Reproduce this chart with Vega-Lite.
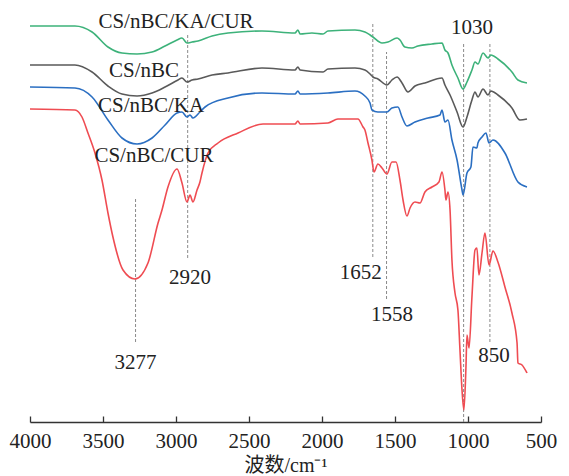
{
  "$schema": "https://vega.github.io/schema/vega-lite/v6.json",
  "width": 511,
  "height": 422,
  "autosize": {"type": "none"},
  "padding": {"left": 30, "top": 0, "right": 28, "bottom": 54},
  "background": "white",
  "config": {"view": {"stroke": null}, "font": "Liberation Serif"},
  "datasets": {
    "markers": [
      {"wn": 3277, "t1": 80, "t2": 225},
      {"wn": 2920, "t1": 164, "t2": 387},
      {"wn": 1652, "t1": 165, "t2": 398},
      {"wn": 1558, "t1": 123, "t2": 370},
      {"wn": 1030, "t1": 0, "t2": 378},
      {"wn": 850, "t1": 80, "t2": 380}
    ],
    "notes": [
      {"label": "CS/nBC/KA/CUR", "wn": 3000, "t": 400},
      {"label": "CS/nBC", "wn": 3219, "t": 351},
      {"label": "CS/nBC/KA", "wn": 3171, "t": 316},
      {"label": "CS/nBC/CUR", "wn": 3151, "t": 266},
      {"label": "3277", "wn": 3277, "t": 59},
      {"label": "2920", "wn": 2904, "t": 144},
      {"label": "1652", "wn": 1735, "t": 149},
      {"label": "1558", "wn": 1521, "t": 107},
      {"label": "1030", "wn": 973, "t": 394},
      {"label": "850", "wn": 822, "t": 66}
    ],
    "spectra": [
      {"s": "CS/nBC/KA/CUR", "wn": 4000, "t": 396}, {"s": "CS/nBC/KA/CUR", "wn": 3692, "t": 396}, {"s": "CS/nBC/KA/CUR", "wn": 3575, "t": 390}, {"s": "CS/nBC/KA/CUR", "wn": 3466, "t": 375}, {"s": "CS/nBC/KA/CUR", "wn": 3370, "t": 369}, {"s": "CS/nBC/KA/CUR", "wn": 3267, "t": 368}, {"s": "CS/nBC/KA/CUR", "wn": 3164, "t": 370}, {"s": "CS/nBC/KA/CUR", "wn": 3075, "t": 376}, {"s": "CS/nBC/KA/CUR", "wn": 2993, "t": 382}, {"s": "CS/nBC/KA/CUR", "wn": 2959, "t": 384}, {"s": "CS/nBC/KA/CUR", "wn": 2925, "t": 379}, {"s": "CS/nBC/KA/CUR", "wn": 2890, "t": 380}, {"s": "CS/nBC/KA/CUR", "wn": 2849, "t": 381}, {"s": "CS/nBC/KA/CUR", "wn": 2753, "t": 386}, {"s": "CS/nBC/KA/CUR", "wn": 2644, "t": 389}, {"s": "CS/nBC/KA/CUR", "wn": 2411, "t": 391}, {"s": "CS/nBC/KA/CUR", "wn": 2185, "t": 389}, {"s": "CS/nBC/KA/CUR", "wn": 2165, "t": 392}, {"s": "CS/nBC/KA/CUR", "wn": 2150, "t": 388}, {"s": "CS/nBC/KA/CUR", "wn": 2069, "t": 389}, {"s": "CS/nBC/KA/CUR", "wn": 1993, "t": 388}, {"s": "CS/nBC/KA/CUR", "wn": 1959, "t": 391}, {"s": "CS/nBC/KA/CUR", "wn": 1774, "t": 392}, {"s": "CS/nBC/KA/CUR", "wn": 1706, "t": 390}, {"s": "CS/nBC/KA/CUR", "wn": 1671, "t": 387}, {"s": "CS/nBC/KA/CUR", "wn": 1651, "t": 385}, {"s": "CS/nBC/KA/CUR", "wn": 1589, "t": 379}, {"s": "CS/nBC/KA/CUR", "wn": 1548, "t": 380}, {"s": "CS/nBC/KA/CUR", "wn": 1486, "t": 384}, {"s": "CS/nBC/KA/CUR", "wn": 1466, "t": 382}, {"s": "CS/nBC/KA/CUR", "wn": 1432, "t": 375}, {"s": "CS/nBC/KA/CUR", "wn": 1384, "t": 374}, {"s": "CS/nBC/KA/CUR", "wn": 1343, "t": 376}, {"s": "CS/nBC/KA/CUR", "wn": 1247, "t": 378}, {"s": "CS/nBC/KA/CUR", "wn": 1178, "t": 379}, {"s": "CS/nBC/KA/CUR", "wn": 1158, "t": 372}, {"s": "CS/nBC/KA/CUR", "wn": 1137, "t": 369}, {"s": "CS/nBC/KA/CUR", "wn": 1110, "t": 357}, {"s": "CS/nBC/KA/CUR", "wn": 1069, "t": 344}, {"s": "CS/nBC/KA/CUR", "wn": 1034, "t": 333}, {"s": "CS/nBC/KA/CUR", "wn": 1007, "t": 340}, {"s": "CS/nBC/KA/CUR", "wn": 973, "t": 352}, {"s": "CS/nBC/KA/CUR", "wn": 952, "t": 360}, {"s": "CS/nBC/KA/CUR", "wn": 932, "t": 358}, {"s": "CS/nBC/KA/CUR", "wn": 897, "t": 369}, {"s": "CS/nBC/KA/CUR", "wn": 863, "t": 364}, {"s": "CS/nBC/KA/CUR", "wn": 843, "t": 367}, {"s": "CS/nBC/KA/CUR", "wn": 795, "t": 363}, {"s": "CS/nBC/KA/CUR", "wn": 699, "t": 350}, {"s": "CS/nBC/KA/CUR", "wn": 658, "t": 342}, {"s": "CS/nBC/KA/CUR", "wn": 596, "t": 339},
      {"s": "CS/nBC", "wn": 4000, "t": 357}, {"s": "CS/nBC", "wn": 3692, "t": 357}, {"s": "CS/nBC", "wn": 3575, "t": 350}, {"s": "CS/nBC", "wn": 3466, "t": 336}, {"s": "CS/nBC", "wn": 3370, "t": 328}, {"s": "CS/nBC", "wn": 3267, "t": 326}, {"s": "CS/nBC", "wn": 3164, "t": 329}, {"s": "CS/nBC", "wn": 3075, "t": 335}, {"s": "CS/nBC", "wn": 2986, "t": 342}, {"s": "CS/nBC", "wn": 2959, "t": 344}, {"s": "CS/nBC", "wn": 2925, "t": 340}, {"s": "CS/nBC", "wn": 2890, "t": 342}, {"s": "CS/nBC", "wn": 2849, "t": 343}, {"s": "CS/nBC", "wn": 2753, "t": 347}, {"s": "CS/nBC", "wn": 2644, "t": 349}, {"s": "CS/nBC", "wn": 2411, "t": 354}, {"s": "CS/nBC", "wn": 2185, "t": 352}, {"s": "CS/nBC", "wn": 2165, "t": 355}, {"s": "CS/nBC", "wn": 2150, "t": 352}, {"s": "CS/nBC", "wn": 1993, "t": 350}, {"s": "CS/nBC", "wn": 1959, "t": 353}, {"s": "CS/nBC", "wn": 1774, "t": 354}, {"s": "CS/nBC", "wn": 1706, "t": 352}, {"s": "CS/nBC", "wn": 1671, "t": 348}, {"s": "CS/nBC", "wn": 1651, "t": 345}, {"s": "CS/nBC", "wn": 1617, "t": 343}, {"s": "CS/nBC", "wn": 1555, "t": 337}, {"s": "CS/nBC", "wn": 1521, "t": 342}, {"s": "CS/nBC", "wn": 1486, "t": 345}, {"s": "CS/nBC", "wn": 1452, "t": 339}, {"s": "CS/nBC", "wn": 1411, "t": 330}, {"s": "CS/nBC", "wn": 1363, "t": 336}, {"s": "CS/nBC", "wn": 1295, "t": 339}, {"s": "CS/nBC", "wn": 1178, "t": 344}, {"s": "CS/nBC", "wn": 1158, "t": 337}, {"s": "CS/nBC", "wn": 1123, "t": 327}, {"s": "CS/nBC", "wn": 1075, "t": 310}, {"s": "CS/nBC", "wn": 1034, "t": 295}, {"s": "CS/nBC", "wn": 1007, "t": 305}, {"s": "CS/nBC", "wn": 973, "t": 322}, {"s": "CS/nBC", "wn": 952, "t": 330}, {"s": "CS/nBC", "wn": 932, "t": 325}, {"s": "CS/nBC", "wn": 897, "t": 333}, {"s": "CS/nBC", "wn": 863, "t": 327}, {"s": "CS/nBC", "wn": 843, "t": 331}, {"s": "CS/nBC", "wn": 795, "t": 327}, {"s": "CS/nBC", "wn": 699, "t": 314}, {"s": "CS/nBC", "wn": 644, "t": 302}, {"s": "CS/nBC", "wn": 596, "t": 303},
      {"s": "CS/nBC/KA", "wn": 4000, "t": 335}, {"s": "CS/nBC/KA", "wn": 3692, "t": 334}, {"s": "CS/nBC/KA", "wn": 3575, "t": 325}, {"s": "CS/nBC/KA", "wn": 3466, "t": 302}, {"s": "CS/nBC/KA", "wn": 3370, "t": 284}, {"s": "CS/nBC/KA", "wn": 3267, "t": 278}, {"s": "CS/nBC/KA", "wn": 3164, "t": 284}, {"s": "CS/nBC/KA", "wn": 3075, "t": 297}, {"s": "CS/nBC/KA", "wn": 2993, "t": 309}, {"s": "CS/nBC/KA", "wn": 2959, "t": 310}, {"s": "CS/nBC/KA", "wn": 2925, "t": 305}, {"s": "CS/nBC/KA", "wn": 2904, "t": 307}, {"s": "CS/nBC/KA", "wn": 2884, "t": 304}, {"s": "CS/nBC/KA", "wn": 2836, "t": 310}, {"s": "CS/nBC/KA", "wn": 2801, "t": 315}, {"s": "CS/nBC/KA", "wn": 2644, "t": 324}, {"s": "CS/nBC/KA", "wn": 2411, "t": 329}, {"s": "CS/nBC/KA", "wn": 2185, "t": 328}, {"s": "CS/nBC/KA", "wn": 2165, "t": 331}, {"s": "CS/nBC/KA", "wn": 2150, "t": 328}, {"s": "CS/nBC/KA", "wn": 1959, "t": 329}, {"s": "CS/nBC/KA", "wn": 1774, "t": 331}, {"s": "CS/nBC/KA", "wn": 1706, "t": 326}, {"s": "CS/nBC/KA", "wn": 1671, "t": 319}, {"s": "CS/nBC/KA", "wn": 1658, "t": 312}, {"s": "CS/nBC/KA", "wn": 1617, "t": 310}, {"s": "CS/nBC/KA", "wn": 1555, "t": 310}, {"s": "CS/nBC/KA", "wn": 1521, "t": 314}, {"s": "CS/nBC/KA", "wn": 1480, "t": 315}, {"s": "CS/nBC/KA", "wn": 1452, "t": 305}, {"s": "CS/nBC/KA", "wn": 1418, "t": 296}, {"s": "CS/nBC/KA", "wn": 1363, "t": 300}, {"s": "CS/nBC/KA", "wn": 1274, "t": 304}, {"s": "CS/nBC/KA", "wn": 1192, "t": 307}, {"s": "CS/nBC/KA", "wn": 1178, "t": 312}, {"s": "CS/nBC/KA", "wn": 1158, "t": 300}, {"s": "CS/nBC/KA", "wn": 1137, "t": 302}, {"s": "CS/nBC/KA", "wn": 1110, "t": 282}, {"s": "CS/nBC/KA", "wn": 1075, "t": 262}, {"s": "CS/nBC/KA", "wn": 1041, "t": 232}, {"s": "CS/nBC/KA", "wn": 1034, "t": 227}, {"s": "CS/nBC/KA", "wn": 1007, "t": 249}, {"s": "CS/nBC/KA", "wn": 980, "t": 255}, {"s": "CS/nBC/KA", "wn": 966, "t": 275}, {"s": "CS/nBC/KA", "wn": 939, "t": 274}, {"s": "CS/nBC/KA", "wn": 932, "t": 279}, {"s": "CS/nBC/KA", "wn": 904, "t": 285}, {"s": "CS/nBC/KA", "wn": 877, "t": 289}, {"s": "CS/nBC/KA", "wn": 856, "t": 279}, {"s": "CS/nBC/KA", "wn": 829, "t": 282}, {"s": "CS/nBC/KA", "wn": 747, "t": 269}, {"s": "CS/nBC/KA", "wn": 658, "t": 240}, {"s": "CS/nBC/KA", "wn": 596, "t": 235},
      {"s": "CS/nBC/CUR", "wn": 4000, "t": 313}, {"s": "CS/nBC/CUR", "wn": 3692, "t": 312}, {"s": "CS/nBC/CUR", "wn": 3644, "t": 305}, {"s": "CS/nBC/CUR", "wn": 3603, "t": 289}, {"s": "CS/nBC/CUR", "wn": 3555, "t": 269}, {"s": "CS/nBC/CUR", "wn": 3507, "t": 242}, {"s": "CS/nBC/CUR", "wn": 3466, "t": 209}, {"s": "CS/nBC/CUR", "wn": 3432, "t": 185}, {"s": "CS/nBC/CUR", "wn": 3363, "t": 152}, {"s": "CS/nBC/CUR", "wn": 3281, "t": 143}, {"s": "CS/nBC/CUR", "wn": 3192, "t": 159}, {"s": "CS/nBC/CUR", "wn": 3123, "t": 199}, {"s": "CS/nBC/CUR", "wn": 3096, "t": 212}, {"s": "CS/nBC/CUR", "wn": 3055, "t": 235}, {"s": "CS/nBC/CUR", "wn": 2993, "t": 253}, {"s": "CS/nBC/CUR", "wn": 2959, "t": 239}, {"s": "CS/nBC/CUR", "wn": 2925, "t": 220}, {"s": "CS/nBC/CUR", "wn": 2904, "t": 227}, {"s": "CS/nBC/CUR", "wn": 2884, "t": 220}, {"s": "CS/nBC/CUR", "wn": 2856, "t": 232}, {"s": "CS/nBC/CUR", "wn": 2836, "t": 240}, {"s": "CS/nBC/CUR", "wn": 2822, "t": 249}, {"s": "CS/nBC/CUR", "wn": 2781, "t": 269}, {"s": "CS/nBC/CUR", "wn": 2712, "t": 279}, {"s": "CS/nBC/CUR", "wn": 2575, "t": 289}, {"s": "CS/nBC/CUR", "wn": 2404, "t": 298}, {"s": "CS/nBC/CUR", "wn": 2185, "t": 298}, {"s": "CS/nBC/CUR", "wn": 2165, "t": 301}, {"s": "CS/nBC/CUR", "wn": 2150, "t": 298}, {"s": "CS/nBC/CUR", "wn": 1959, "t": 299}, {"s": "CS/nBC/CUR", "wn": 1891, "t": 303}, {"s": "CS/nBC/CUR", "wn": 1754, "t": 303}, {"s": "CS/nBC/CUR", "wn": 1719, "t": 295}, {"s": "CS/nBC/CUR", "wn": 1706, "t": 292}, {"s": "CS/nBC/CUR", "wn": 1685, "t": 279}, {"s": "CS/nBC/CUR", "wn": 1658, "t": 262}, {"s": "CS/nBC/CUR", "wn": 1644, "t": 250}, {"s": "CS/nBC/CUR", "wn": 1617, "t": 258}, {"s": "CS/nBC/CUR", "wn": 1589, "t": 254}, {"s": "CS/nBC/CUR", "wn": 1555, "t": 248}, {"s": "CS/nBC/CUR", "wn": 1521, "t": 260}, {"s": "CS/nBC/CUR", "wn": 1493, "t": 260}, {"s": "CS/nBC/CUR", "wn": 1466, "t": 242}, {"s": "CS/nBC/CUR", "wn": 1445, "t": 222}, {"s": "CS/nBC/CUR", "wn": 1418, "t": 206}, {"s": "CS/nBC/CUR", "wn": 1397, "t": 214}, {"s": "CS/nBC/CUR", "wn": 1363, "t": 220}, {"s": "CS/nBC/CUR", "wn": 1329, "t": 219}, {"s": "CS/nBC/CUR", "wn": 1295, "t": 230}, {"s": "CS/nBC/CUR", "wn": 1247, "t": 235}, {"s": "CS/nBC/CUR", "wn": 1199, "t": 240}, {"s": "CS/nBC/CUR", "wn": 1178, "t": 250}, {"s": "CS/nBC/CUR", "wn": 1158, "t": 232}, {"s": "CS/nBC/CUR", "wn": 1151, "t": 222}, {"s": "CS/nBC/CUR", "wn": 1137, "t": 230}, {"s": "CS/nBC/CUR", "wn": 1123, "t": 212}, {"s": "CS/nBC/CUR", "wn": 1110, "t": 162}, {"s": "CS/nBC/CUR", "wn": 1089, "t": 129}, {"s": "CS/nBC/CUR", "wn": 1069, "t": 112}, {"s": "CS/nBC/CUR", "wn": 1055, "t": 72}, {"s": "CS/nBC/CUR", "wn": 1041, "t": 32}, {"s": "CS/nBC/CUR", "wn": 1028, "t": 12}, {"s": "CS/nBC/CUR", "wn": 1014, "t": 55}, {"s": "CS/nBC/CUR", "wn": 1007, "t": 87}, {"s": "CS/nBC/CUR", "wn": 993, "t": 74}, {"s": "CS/nBC/CUR", "wn": 973, "t": 125}, {"s": "CS/nBC/CUR", "wn": 952, "t": 172}, {"s": "CS/nBC/CUR", "wn": 939, "t": 174}, {"s": "CS/nBC/CUR", "wn": 925, "t": 147}, {"s": "CS/nBC/CUR", "wn": 904, "t": 169}, {"s": "CS/nBC/CUR", "wn": 884, "t": 189}, {"s": "CS/nBC/CUR", "wn": 856, "t": 157}, {"s": "CS/nBC/CUR", "wn": 829, "t": 171}, {"s": "CS/nBC/CUR", "wn": 795, "t": 160}, {"s": "CS/nBC/CUR", "wn": 747, "t": 135}, {"s": "CS/nBC/CUR", "wn": 699, "t": 109}, {"s": "CS/nBC/CUR", "wn": 664, "t": 79}, {"s": "CS/nBC/CUR", "wn": 658, "t": 59}, {"s": "CS/nBC/CUR", "wn": 630, "t": 57}, {"s": "CS/nBC/CUR", "wn": 596, "t": 49}
    ]
  },
  "layer": [
    {
      "data": {"name": "markers"},
      "mark": {"type": "rule", "strokeDash": [3, 2], "color": "#8a8a8a", "strokeWidth": 1},
      "encoding": {
        "x": {
          "field": "wn", "type": "quantitative",
          "scale": {"domain": [4000, 500], "nice": false, "zero": false},
          "axis": {
            "title": "波数/cm⁻¹",
            "values": [4000, 3500, 3000, 2500, 2000, 1500, 1000, 500],
            "format": "d",
            "grid": false,
            "domainColor": "#333", "domainWidth": 1.3,
            "tickColor": "#333", "tickSize": -6, "tickWidth": 1.3,
            "labelFont": "Liberation Serif", "labelFontSize": 21, "labelColor": "#222",
            "labelPadding": 14, "labelFlush": false, "labelOverlap": false,
            "titleFont": "Liberation Serif, Noto Sans CJK SC", "titleFontSize": 20, "titleFontWeight": "normal",
            "titleColor": "#222", "titlePadding": 4
          }
        },
        "y": {"field": "t1", "type": "quantitative", "scale": {"domain": [0, 422], "nice": false}, "axis": null},
        "y2": {"field": "t2"}
      }
    },
    {
      "data": {"name": "spectra"},
      "mark": {"type": "line", "strokeWidth": 1.6, "interpolate": "monotone"},
      "encoding": {
        "x": {"field": "wn", "type": "quantitative"},
        "y": {"field": "t", "type": "quantitative"},
        "color": {
          "field": "s", "type": "nominal", "legend": null,
          "scale": {
            "domain": ["CS/nBC/KA/CUR", "CS/nBC", "CS/nBC/KA", "CS/nBC/CUR"],
            "range": ["#3db27a", "#5a5a5a", "#2b6fc2", "#ef4c52"]
          }
        },
        "order": {"field": "wn", "type": "quantitative"}
      }
    },
    {
      "data": {"name": "notes"},
      "mark": {"type": "text", "font": "Liberation Serif", "fontSize": 21, "color": "#222", "align": "center", "baseline": "middle"},
      "encoding": {
        "x": {"field": "wn", "type": "quantitative"},
        "y": {"field": "t", "type": "quantitative"},
        "text": {"field": "label"}
      }
    }
  ]
}
